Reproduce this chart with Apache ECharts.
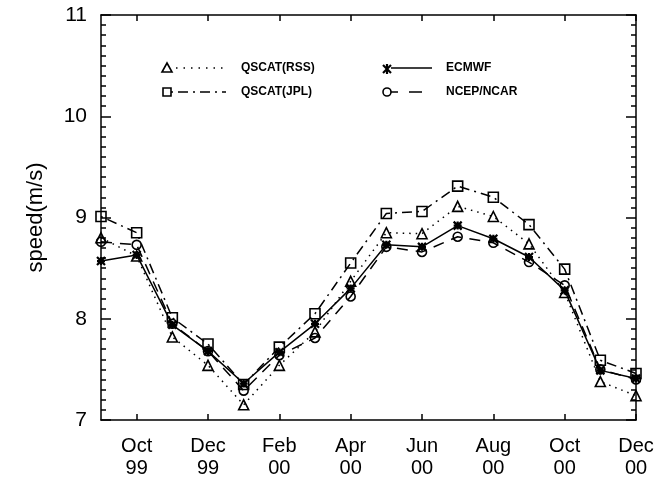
<!DOCTYPE html>
<html>
<head>
<meta charset="utf-8">
<script src="https://cdn.jsdelivr.net/npm/echarts@6/dist/echarts.min.js"></script>
<style>
  html, body { margin: 0; padding: 0; background: #fff; }
  #chart { width: 666px; height: 486px; }
</style>
</head>
<body>
<div id="chart"></div>
<script>
// monthly means, Sep 99 .. Dec 00
const months = ['Sep', 'Oct', 'Nov', 'Dec', 'Jan', 'Feb', 'Mar', 'Apr', 'May', 'Jun', 'Jul', 'Aug', 'Sep', 'Oct', 'Nov', 'Dec'];
const years = ['99', '99', '99', '99', '00', '00', '00', '00', '00', '00', '00', '00', '00', '00', '00', '00'];
const qscatRss = [8.80, 8.62, 7.82, 7.54, 7.15, 7.54, 7.87, 8.37, 8.85, 8.84, 9.11, 9.01, 8.74, 8.26, 7.38, 7.24];
const qscatJpl = [9.01, 8.85, 8.01, 7.75, 7.35, 7.72, 8.05, 8.55, 9.04, 9.06, 9.31, 9.20, 8.93, 8.49, 7.59, 7.46];
const ecmwf = [8.57, 8.63, 7.94, 7.68, 7.36, 7.67, 7.95, 8.30, 8.73, 8.71, 8.92, 8.79, 8.61, 8.28, 7.49, 7.41];
const ncep = [8.76, 8.73, 7.95, 7.68, 7.29, 7.64, 7.81, 8.22, 8.71, 8.66, 8.81, 8.75, 8.56, 8.33, 7.50, 7.40];
const yTicks = [7, 8, 9, 10, 11];

const FONT = '"Liberation Sans", Arial, sans-serif';
const categories = months.map((m, i) => m + '\n' + years[i]);
const everyOther = (i) => i % 2 === 1;
const star = 'path://M0,0L10,10M10,0L0,10M5,0L5,10M0,5L10,5';

const axisLine = { show: true, lineStyle: { color: '#000', width: 1.5 } };

const xBase = {
  type: 'category',
  data: categories,
  boundaryGap: false,
  axisLine: axisLine,
  axisTick: { show: true, inside: true, length: 6, interval: everyOther, lineStyle: { color: '#000', width: 1.5 } },
  splitLine: { show: false }
};

const yBase = {
  type: 'value',
  min: yTicks[0],
  max: yTicks[yTicks.length - 1],
  interval: 1,
  axisLine: axisLine,
  axisTick: { show: true, inside: true, length: 10, lineStyle: { color: '#000', width: 1.5 } },
  minorTick: { show: true, splitNumber: 10, length: 5, lineStyle: { color: '#000', width: 1.5 } },
  splitLine: { show: false }
};

const mkSeries = (name, data, symbol, size, lineType) => ({
  name: name,
  type: 'line',
  data: data,
  symbol: symbol,
  symbolSize: size,
  showAllSymbol: true,
  lineStyle: { color: '#000', width: 1.5, type: lineType },
  itemStyle: {
    color: symbol === star ? '#000' : 'rgba(0,0,0,0)',
    borderColor: '#000',
    borderWidth: symbol === star ? 2.2 : 1.6
  },
  z: 3
});

const legendFont = 'bold 12px ' + FONT;
const blk = { stroke: '#000', lineWidth: 1.6, fill: null };
const blk2 = { stroke: '#000', lineWidth: 2.2, fill: null };

const options = {
  animation: false,
  backgroundColor: '#fff',
  grid: { left: 101, right: 30, top: 15, bottom: 66 },
  xAxis: [
    Object.assign({}, xBase, {
      position: 'bottom',
      axisLabel: {
        show: true, interval: everyOther, color: '#000',
        fontFamily: FONT, fontSize: 20, lineHeight: 22, margin: 15
      }
    }),
    Object.assign({}, xBase, { position: 'top', axisLabel: { show: false } })
  ],
  yAxis: [
    Object.assign({}, yBase, {
      position: 'left',
      name: 'speed(m/s)',
      nameLocation: 'middle',
      nameGap: 54,
      nameTextStyle: { color: '#000', fontFamily: FONT, fontSize: 22 },
      axisLabel: { show: true, color: '#000', fontFamily: FONT, fontSize: 21, margin: 14 }
    }),
    Object.assign({}, yBase, { position: 'right', axisLabel: { show: false } })
  ],
  series: [
    mkSeries('QSCAT(RSS)', qscatRss, 'triangle', 10, [1.5, 5]),
    mkSeries('QSCAT(JPL)', qscatJpl, 'rect', 10, [2, 5, 10, 5]),
    mkSeries('ECMWF', ecmwf, star, 8, 'solid'),
    mkSeries('NCEP/NCAR', ncep, 'circle', 9, [11, 8])
  ],
  graphic: [
    // QSCAT(RSS)
    { type: 'polygon', shape: { points: [[162, 72], [172, 72], [167, 63]] }, style: blk },
    { type: 'line', shape: { x1: 176, y1: 68, x2: 226, y2: 68 }, style: { stroke: '#000', lineWidth: 1.5, lineDash: [1.5, 6] } },
    { type: 'text', style: { text: 'QSCAT(RSS)', x: 241, y: 68, verticalAlign: 'middle', font: legendFont, fill: '#000' } },
    // QSCAT(JPL)
    { type: 'rect', shape: { x: 163, y: 88, width: 8, height: 8 }, style: blk },
    { type: 'line', shape: { x1: 171, y1: 92, x2: 226, y2: 92 }, style: { stroke: '#000', lineWidth: 1.5, lineDash: [2, 5, 10, 5] } },
    { type: 'text', style: { text: 'QSCAT(JPL)', x: 241, y: 92, verticalAlign: 'middle', font: legendFont, fill: '#000' } },
    // ECMWF
    { type: 'line', shape: { x1: 383, y1: 65, x2: 391, y2: 73 }, style: blk2 },
    { type: 'line', shape: { x1: 391, y1: 65, x2: 383, y2: 73 }, style: blk2 },
    { type: 'line', shape: { x1: 387, y1: 64, x2: 387, y2: 74 }, style: blk2 },
    { type: 'line', shape: { x1: 391, y1: 68, x2: 432, y2: 68 }, style: { stroke: '#000', lineWidth: 1.5 } },
    { type: 'text', style: { text: 'ECMWF', x: 446, y: 68, verticalAlign: 'middle', font: legendFont, fill: '#000' } },
    // NCEP/NCAR
    { type: 'circle', shape: { cx: 387, cy: 92, r: 4 }, style: blk },
    { type: 'line', shape: { x1: 391, y1: 92, x2: 424, y2: 92 }, style: { stroke: '#000', lineWidth: 1.5, lineDash: [7, 11, 13, 20] } },
    { type: 'text', style: { text: 'NCEP/NCAR', x: 446, y: 92, verticalAlign: 'middle', font: legendFont, fill: '#000' } }
  ]
};

const myChart = echarts.init(document.getElementById('chart'), null, { renderer: 'canvas' });
myChart.setOption(options);
</script>
</body>
</html>
